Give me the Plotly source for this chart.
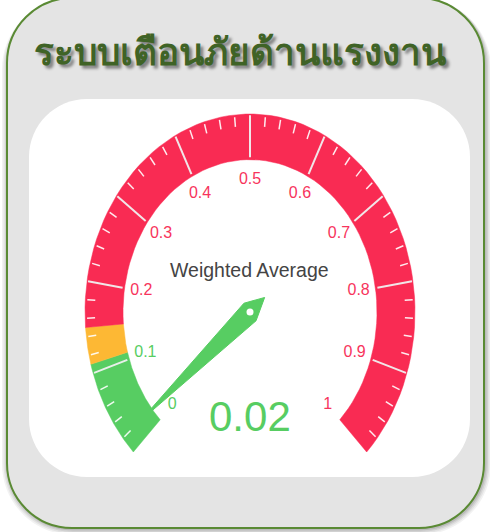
import numpy as np
import plotly.graph_objects as go

# ---------------- data ----------------
TITLE = "ระบบเตือนภัยด้านแรงงาน"
GAUGE_NAME = "Weighted Average"
VALUE = 0.02
AXIS_MIN, AXIS_MAX = 0.0, 1.0
tick_values = [0, 0.1, 0.2, 0.3, 0.4, 0.5, 0.6, 0.7, 0.8, 0.9, 1]
tick_labels = ["0", "0.1", "0.2", "0.3", "0.4", "0.5", "0.6", "0.7", "0.8", "0.9", "1"]
minor_step = 0.02
band_from = [0.0, 0.11, 0.15]
band_to = [0.11, 0.15, 1.0]
band_names = ["low", "medium", "high"]

# ---------------- style ----------------
W, H = 490, 532
GREEN, ORANGE, RED = "#57cd62", "#fdb834", "#f92b53"
band_colors = [GREEN, ORANGE, RED]
label_colors = [GREEN, GREEN] + ["#f7345c"] * 9
CX, CY = 250, 312
R_OUT, R_IN = 165, 127
STRETCH = 1.2
START, END = -135, 135
LABEL_R = 110
FONT = "Liberation Sans, Arial, sans-serif"


def angle(v):
    return np.radians(START + (v - AXIS_MIN) / (AXIS_MAX - AXIS_MIN) * (END - START))


def pt(v, r):
    a = angle(v)
    return CX + r * np.sin(a), CY - STRETCH * r * np.cos(a)


def rrect(x0, y0, x1, y1, r):
    k = 0.5523 * r
    return (f"M{x0+r},{y0} L{x1-r},{y0} C{x1-r+k},{y0} {x1},{y0+r-k} {x1},{y0+r} "
            f"L{x1},{y1-r} C{x1},{y1-r+k} {x1-r+k},{y1} {x1-r},{y1} "
            f"L{x0+r},{y1} C{x0+r-k},{y1} {x0},{y1-r+k} {x0},{y1-r} "
            f"L{x0},{y0+r} C{x0},{y0+r-k} {x0+r-k},{y0} {x0+r},{y0} Z")


fig = go.Figure()

shapes = []
# panel shadow
for i, a in enumerate([0.05, 0.06, 0.08, 0.10]):
    g = 6 - 1.5 * i
    shapes.append(dict(type="path", path=rrect(7 - g + 1, -2, 484 + g + 1, 528 + g + 1, 65 + g),
                       fillcolor=f"rgba(0,0,0,{a})", line=dict(width=0), layer="below",
                       xref="x", yref="y"))
# panel
shapes.append(dict(type="path", path=rrect(7, -2, 484, 528, 65), fillcolor="#e4e4e4",
                   line=dict(color="#5a8a34", width=2), layer="below", xref="x", yref="y"))
# inner white card
shapes.append(dict(type="path", path=rrect(29, 99, 470, 477, 58), fillcolor="#ffffff",
                   line=dict(width=0), layer="below", xref="x", yref="y"))

# bands
for f, t, c, n in zip(band_from, band_to, band_colors, band_names):
    vs = np.linspace(f, t, 80)
    ox, oy = pt(vs, R_OUT)
    ix, iy = pt(vs[::-1], R_IN)
    fig.add_trace(go.Scatter(x=np.r_[ox, ix, ox[:1]], y=np.r_[oy, iy, oy[:1]], mode="lines",
                             fill="toself", fillcolor=c, line=dict(width=0.5, color=c),
                             hoverinfo="skip", name=n, showlegend=False))

# minor ticks
mx, my = [], []
n_minor = int(round((AXIS_MAX - AXIS_MIN) / minor_step))
for j in range(1, n_minor):
    v = AXIS_MIN + j * minor_step
    if any(abs(v - tv) < 1e-9 for tv in tick_values):
        continue
    x0, y0 = pt(v, R_OUT - 2)
    x1, y1 = pt(v, R_OUT - 10)
    mx += [x0, x1, None]
    my += [y0, y1, None]
fig.add_trace(go.Scatter(x=mx, y=my, mode="lines", line=dict(color="rgba(255,255,255,0.9)", width=1.5),
                         hoverinfo="skip", showlegend=False))

# major ticks
Mx, My = [], []
for v in tick_values[1:-1]:
    x0, y0 = pt(v, R_OUT - 1)
    x1, y1 = pt(v, R_IN + 2)
    Mx += [x0, x1, None]
    My += [y0, y1, None]
fig.add_trace(go.Scatter(x=Mx, y=My, mode="lines", line=dict(color="rgba(240,240,240,0.95)", width=2),
                         hoverinfo="skip", showlegend=False))

# tick labels
lx, ly = pt(np.array(tick_values), LABEL_R)
fig.add_trace(go.Scatter(x=lx, y=ly, mode="text", text=tick_labels,
                         textfont=dict(family=FONT, size=16, color=label_colors),
                         hoverinfo="skip", showlegend=False))

# needle
needle_local = [(-19, 0), (0, -9.5), (127, -1), (127, 1), (0, 9.5), (-19, 0)]
a = angle(VALUE)
nx = [CX + al * np.sin(a) + pp * np.cos(a) for al, pp in needle_local]
ny = [CY - STRETCH * (al * np.cos(a) - pp * np.sin(a)) for al, pp in needle_local]
fig.add_trace(go.Scatter(x=nx, y=ny, mode="lines", fill="toself", fillcolor=GREEN,
                         line=dict(color=GREEN, width=1), hoverinfo="skip", showlegend=False))
fig.add_trace(go.Scatter(x=[CX], y=[CY], mode="markers",
                         marker=dict(color="white", size=7, line=dict(width=0)),
                         hoverinfo="skip", showlegend=False))

annotations = [
    dict(x=240, y=50, text=f"<b>{TITLE}</b>", showarrow=False, xref="x", yref="y",
         font=dict(size=37, color="#3f6326", family="Noto Sans, DejaVu Sans, sans-serif",
                   shadow="3px 3px 3px rgba(0,0,0,0.45)")),
    dict(x=249, y=270, text=GAUGE_NAME, showarrow=False, xref="x", yref="y",
         font=dict(size=19.5, color="#444444", family=FONT)),
    dict(x=250, y=416, text=f"{VALUE:g}", showarrow=False, xref="x", yref="y",
         font=dict(size=42, color=GREEN, family=FONT)),
]

fig.update_layout(
    width=W, height=H, margin=dict(l=0, r=0, t=0, b=0),
    paper_bgcolor="white", plot_bgcolor="rgba(0,0,0,0)",
    xaxis=dict(range=[0, W], visible=False, fixedrange=True),
    yaxis=dict(range=[H, 0], visible=False, fixedrange=True),
    shapes=shapes, annotations=annotations, showlegend=False,
)

fig.write_html("out.html", config={"displayModeBar": False},
               post_script="document.body.style.margin='0';document.body.style.overflow='hidden';")
